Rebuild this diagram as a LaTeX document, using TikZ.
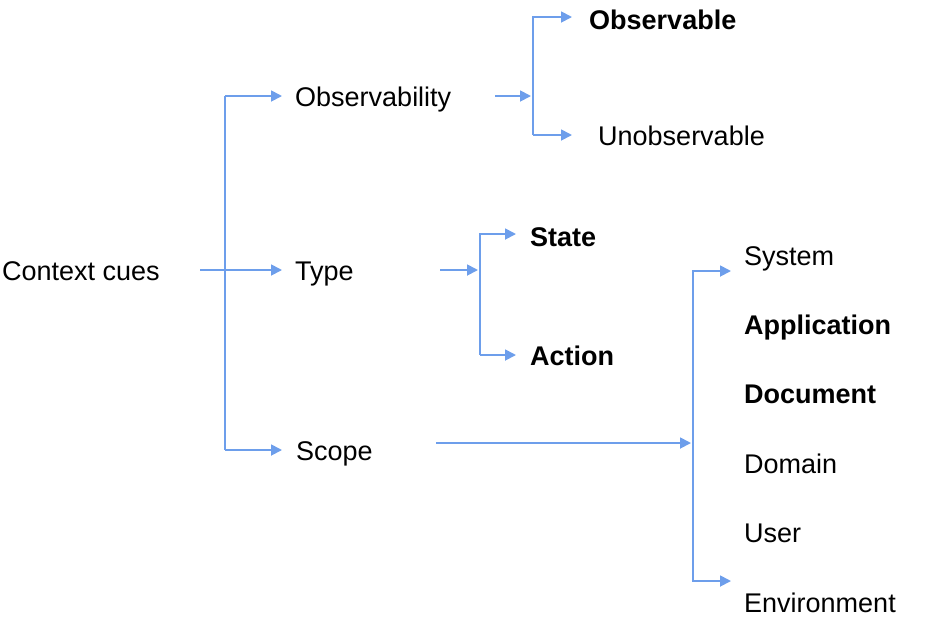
\documentclass[tikz,border=0pt]{standalone}
\usepackage{fontspec}
\setmainfont{Liberation Sans}
\usetikzlibrary{arrows.meta}
\definecolor{lb}{HTML}{6D9EEB}
\begin{document}
\begin{tikzpicture}[x=1pt,y=-1pt,
  lbl/.style={anchor=base west,inner sep=0pt,font=\fontsize{27}{30}\selectfont},
  blbl/.style={lbl,font=\fontsize{27}{30}\selectfont\bfseries},
  conn/.style={draw=lb,line width=1.8pt},
  arr/.style={conn,-{Triangle[length=11pt,width=11pt]}}]
\useasboundingbox (0,0) rectangle (933,619);
\node[lbl] (cc) at (2,280) {Context cues};
\node[lbl] (obs) at (295,106) {Observability};
\node[lbl] (type) at (295,280) {Type};
\node[lbl] (scope) at (296,460) {Scope};
\node[blbl] (ob) at (589,29) {Observable};
\node[lbl] (un) at (598,145) {Unobservable};
\node[blbl] (st) at (530,246) {State};
\node[blbl] (ac) at (530,365) {Action};
\node[lbl] (sys) at (744,265) {System};
\node[blbl] (app) at (744,334) {Application};
\node[blbl] (doc) at (744,403) {Document};
\node[lbl] (dom) at (744,473) {Domain};
\node[lbl] (usr) at (744,542) {User};
\node[lbl] (env) at (744,612) {Environment};
% context cues
\coordinate (c1) at (225,270);
\draw[conn] (200,270) -- (c1);
\draw[conn] (225,96) -- (225,450);
\draw[arr] (225,96) -- (282,96);
\draw[arr] (c1) -- (282,270);
\draw[arr] (225,450) -- (282,450);
% observability
\draw[arr] (495,96) -- (531,96);
\draw[conn] (533,16) -- (533,135);
\draw[arr] (533,17) -- (572,17);
\draw[arr] (533,135) -- (572,135);
% type
\draw[arr] (440,270) -- (478,270);
\draw[conn] (480,233) -- (480,355);
\draw[arr] (480,234) -- (516,234);
\draw[arr] (480,355) -- (516,355);
% scope
\draw[arr] (436,443) -- (691,443);
\draw[conn] (693,270) -- (693,582);
\draw[arr] (693,271) -- (731,271);
\draw[arr] (693,581) -- (731,581);
\end{tikzpicture}
\end{document}
